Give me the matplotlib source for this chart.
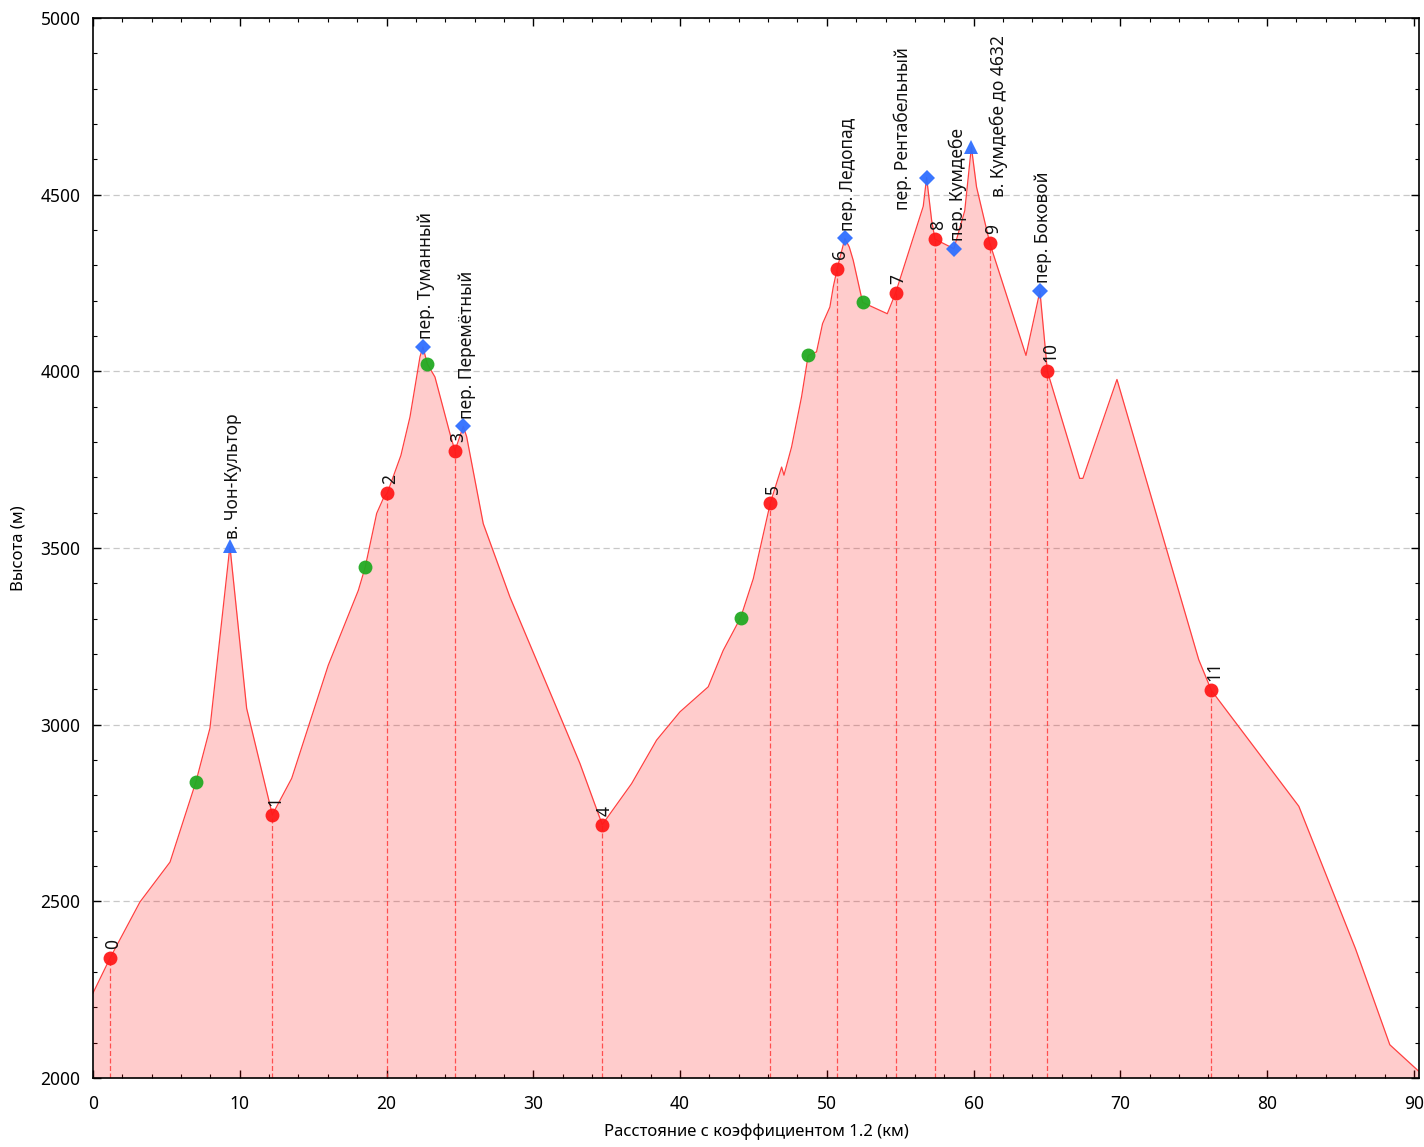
import matplotlib
matplotlib.use("Agg")
import matplotlib.pyplot as plt
from matplotlib.ticker import MultipleLocator

plt.rcParams['font.family'] = ['Noto Sans', 'DejaVu Sans']

# ---- data ----
profile_km = [0.0, 1.16, 3.2, 5.25, 7.02, 7.97, 9.33, 10.47, 12.22, 13.54, 16.03, 18.08,
              18.55, 19.33, 19.78, 20.05, 20.98, 21.6, 21.94, 22.28, 22.48, 22.78, 23.3,
              24.32, 24.66, 25.23, 25.46, 26.59, 28.41, 32.04, 33.18, 34.7, 36.7, 38.4,
              39.99, 41.92, 42.94, 44.13, 44.99, 46.15, 46.92, 47.08, 47.6, 48.28, 48.73,
              49.3, 49.71, 50.21, 50.44, 50.71, 51.23, 51.53, 51.8, 52.44, 54.12, 54.68,
              56.57, 56.8, 57.14, 57.37, 58.66, 59.4, 59.85, 60.2, 61.11, 63.57, 64.52,
              65.03, 67.23, 67.45, 69.77, 75.34, 76.2, 82.16, 86.02, 88.36, 90.41]
profile_elev = [2240, 2339, 2498, 2611, 2839, 2990, 3505, 3046, 2745, 2848, 3168, 3380,
                3446, 3598, 3640, 3655, 3762, 3871, 3956, 4041, 4069, 4021, 3984,
                3824, 3775, 3844, 3815, 3569, 3361, 3003, 2890, 2717, 2833, 2956,
                3036, 3107, 3210, 3303, 3413, 3627, 3729, 3706, 3786, 3928, 4045,
                4055, 4135, 4182, 4239, 4291, 4376, 4352, 4314, 4195, 4163, 4221,
                4467, 4548, 4428, 4374, 4347, 4455, 4635, 4522, 4362, 4045, 4227,
                4000, 3697, 3697, 3977, 3184, 3097, 2769, 2366, 2094, 2016]

wp_km = [1.16, 12.22, 20.05, 24.66, 34.7, 46.15, 50.71, 54.68, 57.37, 61.11, 65.03, 76.2]
wp_elev = [2339, 2745, 3655, 3775, 2717, 3627, 4291, 4221, 4374, 4362, 4000, 3097]
wp_labels = ['0', '1', '2', '3', '4', '5', '6', '7', '8', '9', '10', '11']

green_km = [7.02, 18.55, 22.78, 44.13, 48.73, 52.44]
green_elev = [2839, 3446, 4021, 3303, 4045, 4196]

peak_km = [9.33, 59.85]
peak_elev = [3505, 4635]
peak_names = ['в. Чон-Культор', 'в. Кумдебе до 4632']

pass_km = [22.48, 25.23, 51.23, 56.8, 58.66, 64.52]
pass_elev = [4069, 3844, 4376, 4548, 4347, 4227]
pass_names = ['пер. Туманный', 'пер. Перемётный', 'пер. Ледопад',
              'пер. Рентабельный', 'пер. Кумдебе', 'пер. Боковой']

x_label = 'Расстояние с коэффициентом 1.2 (км)'
y_label = 'Высота (м)'

# ---- style ----
label_offsets = {  # offsets in points (dx, dy) of the rotated label's bottom
    'пер. Рентабельный': (-17, -23),
    'в. Кумдебе до 4632': (20, -36),
}
default_offset = (2.5, 5.5)

fig = plt.figure(figsize=(14.24, 11.47), dpi=100)
ax = fig.add_axes([0.0653, 0.0602, 0.9312, 0.9241])

ax.set_xlim(0, 90.35)
ax.set_ylim(2000, 5000)

ax.yaxis.grid(True, which='major', linestyle=(0, (5, 3)), color='#c8c8c8', linewidth=0.9)
ax.set_axisbelow(True)

ax.fill_between(profile_km, 2000, profile_elev, color='#ff0000', alpha=0.2, linewidth=0, zorder=1)
ax.plot(profile_km, profile_elev, color='#ff4040', linewidth=0.9, zorder=2)

for k, e in zip(wp_km, wp_elev):
    ax.plot([k, k], [2000, e], color='#ff3030', alpha=0.8, linewidth=0.9,
            linestyle=(0, (4, 2)), zorder=2)

ax.plot(green_km, green_elev, 'o', color='#22aa22', markersize=10, alpha=0.95,
        markeredgewidth=0, zorder=4)
ax.plot(wp_km, wp_elev, 'o', color='#ff1a1a', markersize=10, alpha=0.95,
        markeredgewidth=0, zorder=4)
ax.plot(pass_km, pass_elev, 'D', color='#2f6fff', markersize=8.5, alpha=0.95,
        markeredgewidth=0, zorder=4)
ax.plot(peak_km, peak_elev, '^', color='#2f6fff', markersize=10.5, alpha=0.95,
        markeredgewidth=0, zorder=4)

for k, e, t in zip(wp_km, wp_elev, wp_labels):
    ax.annotate(t, (k, e), xytext=(2, 6.5), textcoords='offset points', rotation=90,
                ha='center', va='bottom', fontsize=12.5, color='#111111', zorder=5)

for k, e, t in list(zip(peak_km, peak_elev, peak_names)) + list(zip(pass_km, pass_elev, pass_names)):
    dx, dy = label_offsets.get(t, default_offset)
    ax.annotate(t, (k, e), xytext=(dx, dy), textcoords='offset points', rotation=90,
                ha='center', va='bottom', fontsize=12.5, color='#111111', zorder=5)

ax.xaxis.set_major_locator(MultipleLocator(10))
ax.xaxis.set_minor_locator(MultipleLocator(2))
ax.yaxis.set_major_locator(MultipleLocator(500))
ax.yaxis.set_minor_locator(MultipleLocator(100))
ax.tick_params(which='both', direction='in', top=True, right=True, labelsize=12.5)
ax.tick_params(which='major', length=6, width=1)
ax.tick_params(which='minor', length=3, width=0.8)
ax.tick_params(axis='y', which='major', pad=9)
ax.tick_params(axis='x', which='major', pad=12)

for s in ax.spines.values():
    s.set_linewidth(1.2)

ax.set_xlabel(x_label, fontsize=12, labelpad=8)
ax.set_ylabel(y_label, fontsize=12, labelpad=10)

fig.savefig('out.png', dpi=100)
